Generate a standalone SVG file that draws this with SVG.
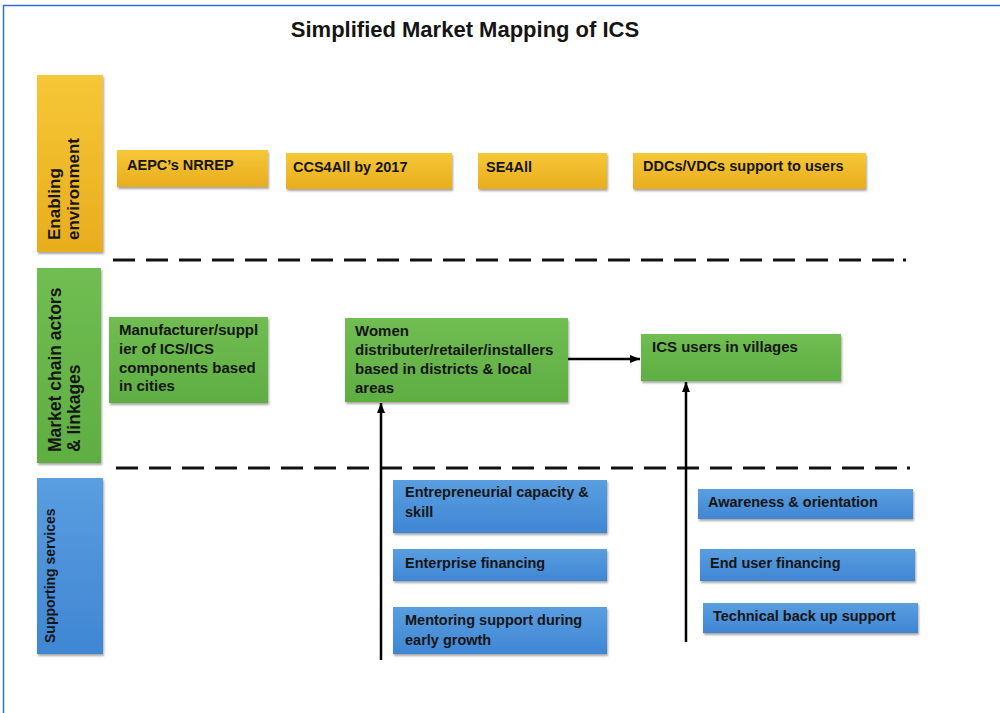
<svg xmlns="http://www.w3.org/2000/svg" width="1000" height="713" viewBox="0 0 1000 713">
<defs>
<linearGradient id="gy" x1="0" y1="0" x2="0" y2="1"><stop offset="0" stop-color="#f6c737"/><stop offset="1" stop-color="#e8ad1e"/></linearGradient>
<linearGradient id="gg" x1="0" y1="0" x2="0" y2="1"><stop offset="0" stop-color="#70bd52"/><stop offset="1" stop-color="#5fae42"/></linearGradient>
<linearGradient id="gb" x1="0" y1="0" x2="0" y2="1"><stop offset="0" stop-color="#5a9ee0"/><stop offset="1" stop-color="#3f86d3"/></linearGradient>
<filter id="sh" x="-5%" y="-10%" width="110%" height="130%"><feDropShadow dx="1" dy="2" stdDeviation="1.2" flood-color="#000" flood-opacity="0.35"/></filter>
<marker id="ah" viewBox="0 0 10 10" refX="10" refY="5" markerWidth="4" markerHeight="4" orient="auto" markerUnits="strokeWidth"><path d="M0,1 L10,5 L0,9 z" fill="#000"/></marker>
<style>
text{font-family:"Liberation Sans",Arial,sans-serif;font-weight:bold;fill:#151515}
.t{font-size:14.5px}
.g{font-size:15px}
.lab{font-size:17px}
.y{fill:url(#gy);filter:url(#sh)}
.gr{fill:url(#gg);filter:url(#sh)}
.b{fill:url(#gb);filter:url(#sh)}
.d{stroke:#111;stroke-width:3;stroke-dasharray:22 11;fill:none}
.c{stroke:#000;stroke-width:2.5;fill:none;marker-end:url(#ah)}
</style>
</defs>
<rect width="1000" height="713" fill="#fff"/>
<path d="M3.5,713 V5.5 H1000" fill="none" stroke="#2f6fd0" stroke-width="1.5"/>
<text x="465" y="37" text-anchor="middle" style="font-size:22px">Simplified Market Mapping of ICS</text>

<g id="lane-enabling">
<rect class="y" x="37" y="75" width="66" height="177"/>
<text class="lab" transform="rotate(-90)" x="-240" y="60">Enabling</text>
<text class="lab" transform="rotate(-90)" x="-240" y="79">environment</text>
</g>
<g id="lane-market">
<rect class="gr" x="37" y="268" width="64" height="195"/>
<text class="lab" transform="rotate(-90)" x="-452" y="61" style="font-size:17.5px">Market chain actors</text>
<text class="lab" transform="rotate(-90)" x="-452" y="80" style="font-size:17.5px">&amp; linkages</text>
</g>
<g id="lane-support">
<rect class="b" x="37" y="478" width="66" height="176"/>
<text transform="rotate(-90)" x="-643" y="55" style="font-size:14px">Supporting services</text>
</g>

<g id="n-aepc"><rect class="y" x="117" y="150" width="151" height="37"/><text class="t" x="127" y="170">AEPC’s NRREP</text></g>
<g id="n-ccs"><rect class="y" x="286" y="153" width="166" height="36"/><text class="t" x="293" y="172">CCS4All by 2017</text></g>
<g id="n-se4all"><rect class="y" x="478" y="153" width="129" height="36"/><text class="t" x="486" y="172">SE4All</text></g>
<g id="n-ddc"><rect class="y" x="633" y="153" width="233" height="36"/><text class="t" x="643" y="171">DDCs/VDCs support to users</text></g>

<g id="n-manuf"><rect class="gr" x="109" y="317" width="159" height="86"/>
<text class="g" x="119" y="335">Manufacturer/suppl</text>
<text class="g" x="119" y="354">ier of ICS/ICS</text>
<text class="g" x="119" y="373">components based</text>
<text class="g" x="119" y="391">in cities</text></g>
<g id="n-women"><rect class="gr" x="345" y="318" width="223" height="84"/>
<text class="g" x="355" y="336">Women</text>
<text class="g" x="355" y="355">distributer/retailer/installers</text>
<text class="g" x="355" y="374">based in districts &amp; local</text>
<text class="g" x="355" y="393">areas</text></g>
<g id="n-users"><rect class="gr" x="641" y="334" width="200" height="47"/>
<text class="g" x="652" y="352">ICS users in villages</text></g>

<g id="n-entre"><rect class="b" x="393" y="480" width="214" height="53"/>
<text class="t" x="405" y="497">Entrepreneurial capacity &amp;</text>
<text class="t" x="405" y="517">skill</text></g>
<g id="n-entfin"><rect class="b" x="393" y="549" width="214" height="32"/>
<text class="t" x="405" y="568">Enterprise financing</text></g>
<g id="n-mentor"><rect class="b" x="393" y="607" width="214" height="47"/>
<text class="t" x="405" y="625">Mentoring support during</text>
<text class="t" x="405" y="645">early growth</text></g>
<g id="n-aware"><rect class="b" x="698" y="489" width="215" height="30"/>
<text class="t" x="708" y="507">Awareness &amp; orientation</text></g>
<g id="n-endfin"><rect class="b" x="700" y="549" width="215" height="32"/>
<text class="t" x="710" y="568">End user financing</text></g>
<g id="n-tech"><rect class="b" x="703" y="603" width="215" height="30"/>
<text class="t" x="713" y="621">Technical back up support</text></g>

<g id="connectors">
<path class="d" d="M113,260 H900"/>
<rect x="903" y="258.5" width="3" height="3" fill="#111"/>
<path class="d" d="M116,468 H905"/>
<rect x="907" y="466.5" width="3" height="3" fill="#111"/>
<path class="c" d="M568,359 H640"/>
<path class="c" d="M381,660 V403"/>
<path class="c" d="M686,642 V382"/>
</g>
</svg>
